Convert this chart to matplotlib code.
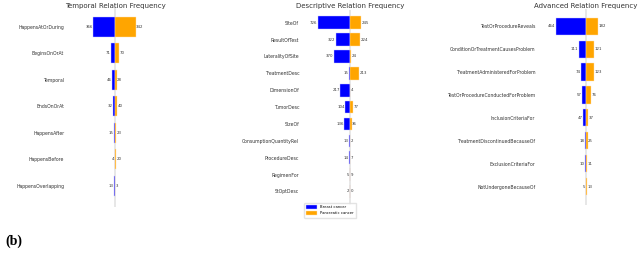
import matplotlib
matplotlib.use("Agg")
import matplotlib.pyplot as plt

# Temporal relations
temporal_labels = ["HappensAtOrDuring", "BeginsOnOrAt", "Temporal", "EndsOnOrAt",
                   "HappensAfter", "HappensBefore", "HappensOverlapping"]
temporal_breast = [366, 71, 46, 32, 15, 4, 13]
temporal_pancreatic = [342, 70, 28, 40, 23, 20, 3]

# Descriptive relations
descriptive_labels = ["SiteOf", "ResultOfTest", "LateralityOfSite", "TreatmentDesc",
                      "DimensionOf", "TumorDesc", "SizeOf", "ConsumptionQuantityRel",
                      "ProcedureDesc", "RegimenFor", "StOptDesc"]
descriptive_breast = [726, 322, 370, 15, 217, 104, 136, 13, 14, 5, 2]
descriptive_pancreatic = [245, 224, 24, 213, 4, 77, 36, 2, 7, 9, 0]

# Advanced relations
advanced_labels = ["TestOrProcedureReveals", "ConditionOrTreatmentCausesProblem",
                   "TreatmentAdministeredForProblem", "TestOrProcedureConductedForProblem",
                   "InclusionCriteriaFor", "TreatmentDiscontinuedBecauseOf",
                   "ExclusionCriteriaFor", "NotUndergoneBecauseOf"]
advanced_breast = [464, 111, 74, 57, 47, 18, 10, 5]
advanced_pancreatic = [182, 121, 123, 76, 37, 25, 11, 13]

BLUE = "#0000ff"
ORANGE = "#ffa500"
W, H = 640, 260


def draw_panel(fig, rect_px, xlim, title, labels, breast, pancreatic, legend=False):
    left, top, width, bottom = rect_px
    ax = fig.add_axes([left / W, 1 - bottom / H, width / W, (bottom - top) / H])
    y = list(range(len(labels)))
    neg = [-v for v in breast]
    ax.axvline(0, color="#e3e3e3", lw=1.2, zorder=0)
    ax.barh(y, neg, height=0.75, color=BLUE, edgecolor="#c8c8ff", lw=0.3,
            label="Breast cancer", zorder=2)
    ax.barh(y, pancreatic, height=0.75, color=ORANGE, edgecolor="#ffe0b0", lw=0.3,
            label="Pancreatic cancer", zorder=2)
    off = xlim * 0.01
    for yi, b, p in zip(y, breast, pancreatic):
        ax.text(-b - off, yi, str(b), ha="right", va="center", fontsize=2.8, color="#333333")
        ax.text(p + off, yi, str(p), ha="left", va="center", fontsize=2.8, color="#333333")
    ax.set_xlim(-xlim, xlim)
    ax.set_ylim(len(labels) - 0.2, -0.75)
    ax.set_yticks(y)
    ax.set_yticklabels(labels, fontsize=3.3, color="#333333")
    ax.tick_params(axis="y", length=0, pad=2)
    ax.set_xticks([])
    for s in ax.spines.values():
        s.set_visible(False)
    ax.patch.set_alpha(0)
    fig.text((left + width / 2) / W, 1 - 6 / H, title, ha="center", va="center",
             fontsize=5, color="#333333")
    if legend:
        ax.legend(loc="upper left", bbox_to_anchor=(0.0, 0.02), fontsize=2.7,
                  frameon=True, edgecolor="#dddddd", handlelength=3, handleheight=1.2,
                  borderpad=0.6, labelspacing=0.5)
    return ax


fig = plt.figure(figsize=(6.4, 2.6), dpi=100)

draw_panel(fig, (67, 7, 96, 207), 798, "Temporal Relation Frequency",
           temporal_labels, temporal_breast, temporal_pancreatic)
draw_panel(fig, (302, 10, 96, 205), 1089, "Descriptive Relation Frequency",
           descriptive_labels, descriptive_breast, descriptive_pancreatic, legend=True)
draw_panel(fig, (538, 9, 96, 205), 742, "Advanced Relation Frequency",
           advanced_labels, advanced_breast, advanced_pancreatic)

fig.text(5 / W, 1 - 241 / H, "(b)", ha="left", va="center", fontsize=10,
         fontweight="bold", family="Liberation Serif")

fig.savefig("out.png", dpi=100)
